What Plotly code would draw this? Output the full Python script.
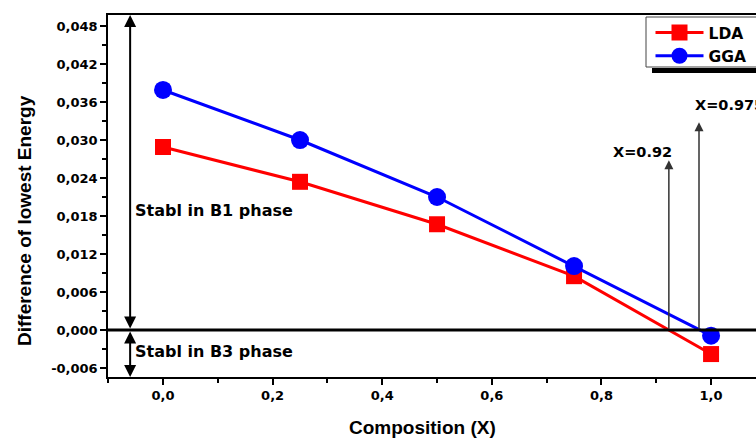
import plotly.graph_objects as go

x_comp = [0.0, 0.25, 0.5, 0.75, 1.0]
lda = [0.0289, 0.0234, 0.0167, 0.0085, -0.0038]
gga = [0.0379, 0.0300, 0.0210, 0.0101, -0.0009]
x_cross = [0.923, 0.978]
cross_tops = [0.0268, 0.0328]
cross_labels = ["X=0.92", "X=0.975"]
x_ticks = [0, 0.2, 0.4, 0.6, 0.8, 1.0]
x_ticktext = ["0,0", "0,2", "0,4", "0,6", "0,8", "1,0"]
y_ticks = [-0.006, 0, 0.006, 0.012, 0.018, 0.024, 0.03, 0.036, 0.042, 0.048]
y_ticktext = ["-0,006", "0,000", "0,006", "0,012", "0,018", "0,024", "0,030", "0,036", "0,042", "0,048"]

W, H = 756, 438
ml, mr, mt, mb = 108, 0, 15, 61
xr = [-0.1004, 1.082]
yr = [-0.00742, 0.04974]
pw = W - ml - mr
ph = H - mt - mb

FONT = "DejaVu Sans"
TFONT = "Liberation Sans, Arial"


def px_x(p):
    return (p - ml) / pw


def px_y(p):
    return ((H - mb) - p) / ph


fig = go.Figure()
fig.add_trace(go.Scatter(x=x_comp, y=lda, name="LDA", mode="lines+markers",
                         line=dict(color="#ff0000", width=3),
                         marker=dict(symbol="square", size=16, color="#ff0000")))
fig.add_trace(go.Scatter(x=x_comp, y=gga, name="GGA", mode="lines+markers",
                         line=dict(color="#0000ff", width=3),
                         marker=dict(symbol="circle", size=18, color="#0000ff")))

# zero line
fig.add_shape(type="line", xref="paper", yref="y", x0=0, x1=1, y0=0, y1=0,
              line=dict(color="black", width=3))

ann = []
xa = -0.06
for y0, y1 in [(0, yr[1]), (0, yr[0])]:
    ann.append(dict(x=xa, y=y1, ax=xa, ay=y0, xref="x", yref="y", axref="x", ayref="y",
                    text="", showarrow=True, arrowhead=2, startarrowhead=2,
                    arrowside="end+start", arrowsize=1.2, startarrowsize=1.2,
                    arrowwidth=2, arrowcolor="black"))
for xc, yt in zip(x_cross, cross_tops):
    ann.append(dict(x=xc, y=yt, ax=xc, ay=0, xref="x", yref="y", axref="x", ayref="y",
                    text="", showarrow=True, arrowhead=2, arrowsize=1.2,
                    arrowwidth=1.5, arrowcolor="#333333"))
ann.append(dict(x=0.874, y=0.0281, xref="x", yref="y", text=cross_labels[0], showarrow=False,
                font=dict(family=FONT, size=14.5, color="black", weight="bold")))
ann.append(dict(x=0.967, y=0.0355, xref="x", yref="y", xanchor="left", text=cross_labels[1],
                showarrow=False, font=dict(family=FONT, size=14.5, color="black", weight="bold")))
ann.append(dict(x=-0.0547, y=0.0188, xref="x", yref="y", xanchor="left", text="Stabl in B1 phase",
                showarrow=False, font=dict(family=FONT, size=16, color="black", weight="bold")))
ann.append(dict(x=-0.0547, y=-0.00347, xref="x", yref="y", xanchor="left", text="Stabl in B3 phase",
                showarrow=False, font=dict(family=FONT, size=16, color="black", weight="bold")))
ann.append(dict(x=px_x(422), y=px_y(427), xref="paper", yref="paper",
                text="Composition (X)", showarrow=False, xanchor="center", yanchor="middle",
                font=dict(family=TFONT, size=19, color="black", weight="bold")))
ann.append(dict(x=px_x(24), y=px_y(221), xref="paper", yref="paper",
                text="Difference of lowest Energy", showarrow=False, textangle=-90,
                xanchor="center", yanchor="middle",
                font=dict(family=TFONT, size=19, color="black", weight="bold")))

# legend box (extends past right edge) and its shadow
fig.add_shape(type="rect", xref="paper", yref="paper",
              x0=px_x(652), x1=px_x(770), y0=px_y(73), y1=px_y(68),
              fillcolor="black", line=dict(width=0), layer="above")
fig.add_shape(type="rect", xref="paper", yref="paper",
              x0=px_x(646), x1=px_x(770), y0=px_y(67), y1=px_y(17),
              fillcolor="white", line=dict(color="#444444", width=1), layer="above")

fig.update_layout(
    width=W, height=H, margin=dict(l=ml, r=mr, t=mt, b=mb, autoexpand=False),
    paper_bgcolor="white", plot_bgcolor="white",
    showlegend=True,
    legend=dict(x=px_x(650.5), xanchor="left", y=px_y(16), yanchor="top",
                bgcolor="rgba(0,0,0,0)", borderwidth=0,
                font=dict(family=FONT, size=15.5, color="black", weight="bold"),
                tracegroupgap=0, itemwidth=48),
    annotations=ann,
)
fig.update_xaxes(range=xr, showgrid=False, zeroline=False, showline=True, linecolor="black",
                 linewidth=1.5, mirror=True, ticks="outside", ticklen=6, tickwidth=1.5,
                 tickcolor="black", tickvals=x_ticks, ticktext=x_ticktext,
                 tickfont=dict(family=FONT, size=13, color="black", weight="bold"),
                 minor=dict(ticks="outside", ticklen=4, tickwidth=1.5, tickcolor="black", dtick=0.1,
                            tick0=0.1, showgrid=False))
fig.update_yaxes(range=yr, showgrid=False, zeroline=False, showline=True, linecolor="black",
                 linewidth=1.5, mirror=False, ticks="outside", ticklen=6, tickwidth=1.5,
                 tickcolor="black", tickvals=y_ticks, ticktext=y_ticktext,
                 tickfont=dict(family=FONT, size=13, color="black", weight="bold"),
                 minor=dict(ticks="outside", ticklen=4, tickwidth=1.5, tickcolor="black", dtick=0.003,
                            tick0=0.003, showgrid=False))

fig.write_html("out.html")
